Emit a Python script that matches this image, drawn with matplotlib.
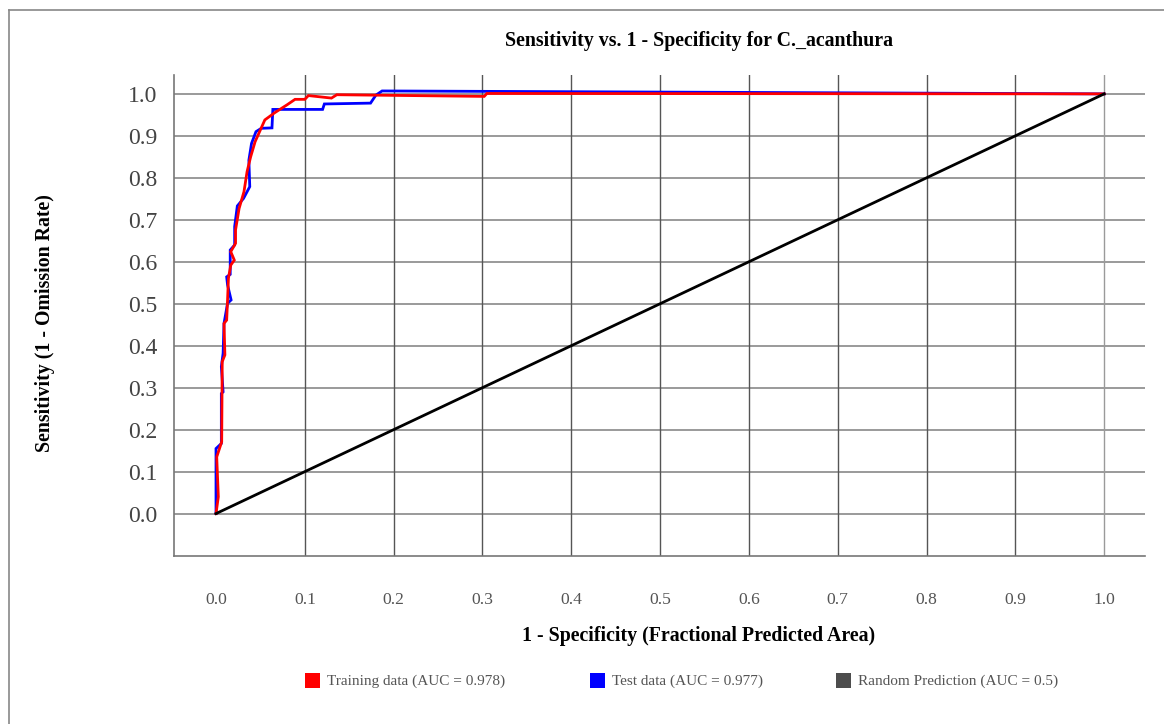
import matplotlib
matplotlib.use("Agg")
import matplotlib.pyplot as plt
from matplotlib.lines import Line2D
from matplotlib.patches import Rectangle

plt.rcParams['font.family'] = ['Liberation Serif', 'DejaVu Serif']

# ---- data ----
title = "Sensitivity vs. 1 - Specificity for C._acanthura"
xlabel = "1 - Specificity (Fractional Predicted Area)"
ylabel = "Sensitivity (1 - Omission Rate)"
ticks = [0.0, 0.1, 0.2, 0.3, 0.4, 0.5, 0.6, 0.7, 0.8, 0.9, 1.0]
tick_labels = ["0.0", "0.1", "0.2", "0.3", "0.4", "0.5", "0.6", "0.7", "0.8", "0.9", "1.0"]

train_x = [0.0, 0.0026, 0.0008, 0.0064, 0.007, 0.010, 0.009, 0.012, 0.013, 0.014,
           0.0166, 0.0206, 0.0166, 0.022, 0.022, 0.026, 0.0315, 0.035, 0.039, 0.044,
           0.055, 0.066, 0.080, 0.089, 0.100, 0.104, 0.130, 0.136, 0.302, 0.305, 1.0]
train_y = [0.0, 0.040, 0.135, 0.171, 0.362, 0.378, 0.453, 0.461, 0.509, 0.561,
           0.592, 0.604, 0.624, 0.644, 0.676, 0.727, 0.767, 0.815, 0.850, 0.886,
           0.938, 0.955, 0.974, 0.987, 0.987, 0.996, 0.990, 0.998, 0.994, 1.001, 1.0]

test_x = [0.0, 0.0, 0.0, 0.006, 0.006, 0.008, 0.006, 0.008, 0.009, 0.013, 0.017,
          0.013, 0.012, 0.016, 0.016, 0.021, 0.021, 0.024, 0.031, 0.038, 0.037,
          0.040, 0.045, 0.051, 0.063, 0.064, 0.120, 0.122, 0.174, 0.180, 0.187, 1.0]
test_y = [0.0, 0.03, 0.155, 0.167, 0.286, 0.29, 0.35, 0.382, 0.453, 0.501, 0.509,
          0.545, 0.564, 0.570, 0.628, 0.640, 0.684, 0.733, 0.751, 0.779, 0.842,
          0.882, 0.910, 0.918, 0.919, 0.963, 0.963, 0.976, 0.978, 0.997, 1.007, 1.0]

random_x = [0.0, 1.0]
random_y = [0.0, 1.0]

legend_labels = ["Training data (AUC = 0.978)", "Test data (AUC = 0.977)",
                 "Random Prediction (AUC = 0.5)"]
legend_colors = ["#ff0000", "#0000ff", "#4d4d4d"]

# ---- figure ----
W, H = 1164, 724
fig = plt.figure(figsize=(W / 100, H / 100), dpi=100)
fig.patch.set_facecolor('white')

def fx(px):
    return px / W

def fy(py):
    return 1 - py / H

ax = fig.add_axes([fx(174), fy(556), fx(1145) - fx(174), fy(75) - fy(556)])
ax.set_xlim(-0.0473, 1.046)
ax.set_ylim(-0.101, 1.045)

# grid
for t in ticks:
    ax.axhline(t, color='#9a9a9a', lw=1.4, zorder=1)
for t in ticks[1:]:
    ax.axvline(t, color='#555555' if t < 1.0 else '#9a9a9a', lw=1.0, zorder=1)

ax.plot(test_x, test_y, color='#0000ff', lw=2.0, zorder=3, solid_joinstyle='miter')
ax.plot(train_x, train_y, color='#ff0000', lw=2.0, zorder=4, solid_joinstyle='miter')
ax.plot(random_x, random_y, color='#000000', lw=2.0, zorder=5)

for s in ['top', 'right']:
    ax.spines[s].set_visible(False)
for s in ['left', 'bottom']:
    ax.spines[s].set_color('#777777')
    ax.spines[s].set_linewidth(1.2)

ax.set_xticks(ticks)
ax.set_xticklabels(tick_labels, fontsize=12.6, color='#555555')
ax.set_yticks(ticks)
ax.set_yticklabels(tick_labels, fontsize=17, color='#444444')
ax.tick_params(axis='x', length=0, pad=26)
ax.tick_params(axis='y', length=0, pad=12)

fig.text(fx(699), fy(41), title, fontsize=14.3, fontweight='bold', ha='center', va='center')
fig.text(fx(699), fy(636), xlabel, fontsize=14.3, fontweight='bold', ha='center', va='center')
fig.text(fx(45), fy(323), ylabel, fontsize=14.3, fontweight='bold', ha='center', va='center',
         rotation=90)

# legend
patch_x = [305, 590, 836]
for px, lab, col in zip(patch_x, legend_labels, legend_colors):
    fig.patches.append(Rectangle((fx(px), fy(688)), fx(15), 15 / H, transform=fig.transFigure,
                                 facecolor=col, edgecolor='none'))
    fig.text(fx(px + 22), fy(681), lab, fontsize=11, color='#555555', ha='left', va='center')

# outer border
fig.lines.append(Line2D([fx(8.5), fx(8.5)], [0, fy(10)], transform=fig.transFigure,
                        color='#888888', lw=1.2))
fig.lines.append(Line2D([fx(8.5), 1], [fy(10), fy(10)], transform=fig.transFigure,
                        color='#888888', lw=1.2))

fig.savefig('out.png', dpi=100)
